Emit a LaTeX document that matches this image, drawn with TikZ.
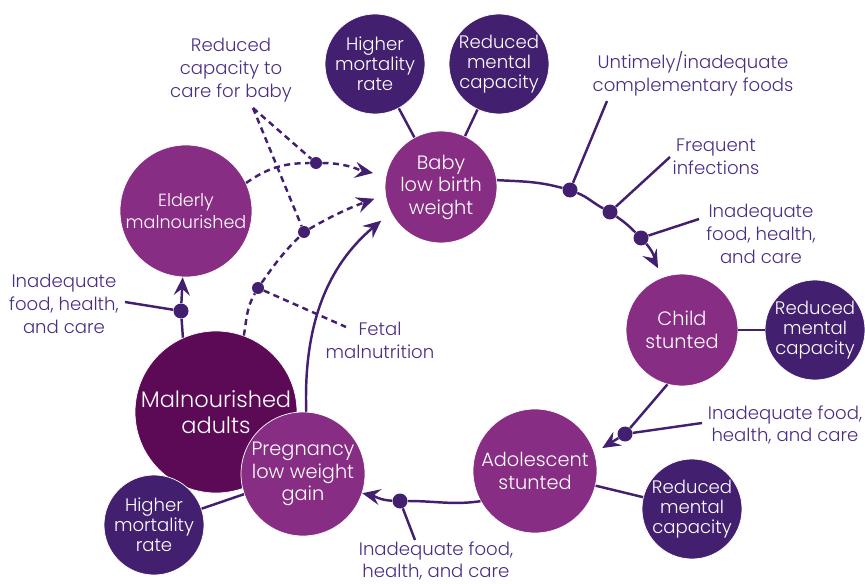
\documentclass[tikz,border=0pt]{standalone}
\usepackage{fontspec}
\setmainfont{Poppins}[UprightFont=* Light]
\usetikzlibrary{arrows.meta, positioning, calc}
\definecolor{cyclepurple}{HTML}{882D84}
\definecolor{outcomeviolet}{HTML}{43206F}
\definecolor{adultplum}{HTML}{5C0A55}
\definecolor{labelviolet}{HTML}{4B2E83}

\begin{document}
\begin{tikzpicture}[x=0.02cm, y=-0.02cm,
    stage/.style={circle, fill=cyclepurple, draw=white, thin, text=white, align=center, inner sep=0pt, font=\fontsize{11}{12.8}\selectfont},
    outcome/.style={circle, fill=outcomeviolet, draw=white, thin, text=white, align=center, inner sep=0pt, minimum size=2cm, font=\fontsize{10.3}{11.3}\selectfont},
    factor/.style={align=center, text=labelviolet, font=\fontsize{10.3}{13}\selectfont},
    dot/.style={circle, fill=outcomeviolet, inner sep=0pt, minimum size=0.3cm},
    smalldot/.style={circle, fill=outcomeviolet, inner sep=0pt, minimum size=0.24cm},
    link/.style={outcomeviolet, line width=1.4pt},
    flow/.style={link, -{Stealth[length=3.6mm, width=3.2mm, inset=1.3mm]}},
    hint/.style={link, dash pattern=on 3.5pt off 2.5pt},
    hintflow/.style={hint, -{Stealth[length=3.6mm, width=3.2mm, inset=1.3mm]}}
]
\useasboundingbox (0,0) rectangle (865,584);

% Life-cycle stages
\node[stage, minimum size=2.24cm] (baby) at (441,187) {Baby\\low birth\\weight};
\node[stage, minimum size=2.24cm] (child) at (682,330) {Child\\stunted};
\node[stage, minimum size=2.48cm] (adol) at (535,471) {Adolescent\\stunted};
\node[stage, minimum size=2.64cm, font=\fontsize{10}{12.8}\selectfont] (elderly) at (186,211) {Elderly\\malnourished};
\node[stage, minimum size=3.24cm, fill=adultplum, font=\fontsize{12.8}{15}\selectfont] (adults) at (216,412) {Malnourished\\adults};
\node[stage, minimum size=2.48cm] (preg) at (303,474) {Pregnancy\\low weight\\gain};

% Consequences
\node[outcome] (mortA) at (375,64) {Higher\\mortality\\rate};
\node[outcome] (mentA) at (499,64) {Reduced\\mental\\capacity};
\node[outcome] (mentB) at (815,330) {Reduced\\mental\\capacity};
\node[outcome] (mentC) at (692,509) {Reduced\\mental\\capacity};
\node[outcome] (mortB) at (154,525) {Higher\\mortality\\rate};

\draw[link] (baby) -- (mortA);
\draw[link] (baby) -- (mentA);
\draw[link] (child) -- (mentB);
\draw[link] (adol) -- (mentC);
\draw[link] (preg) -- (mortB);

% Contributing factors
\node[factor] (foods) at (693,74) {Untimely/inadequate\\complementary foods};
\node[factor] (infect) at (716,157) {Frequent\\infections};
\node[factor] (careC) at (761,234) {Inadequate\\food, health,\\and care};
\node[factor] (careA) at (785,425) {Inadequate food,\\health, and care};
\node[factor] (careP) at (436,561) {Inadequate food,\\health, and care};
\node[factor] (careE) at (64,304) {Inadequate\\food, health,\\and care};
\node[factor] (babycare) at (231,70) {Reduced\\capacity to\\care for baby};
\node[factor] (fetal) at (380,340) {Fetal\\malnutrition};

\coordinate (foodsend) at (607,101);
\coordinate (infectend) at (670,157);
\coordinate (careCend) at (699,219);
\coordinate (careAend) at (702,423);
\coordinate (carePend) at (415,540);
\coordinate (careEend) at (125,302);
\coordinate (babycareend) at (253,108);
\coordinate (fetalend) at (346,327);

% Dots on the cycle
\node[dot] (d1) at (570,190) {};
\node[dot] (d2) at (610,212) {};
\node[dot] (d3) at (641,238) {};
\node[dot] (d4) at (625,434) {};
\node[dot] (d5) at (400,501) {};
\node[dot] (d6) at (181,311) {};
\node[smalldot] (e1) at (316,163) {};
\node[smalldot] (e2) at (304,232) {};
\node[smalldot] (e3) at (258,288) {};

% Main cycle
\draw[link] (baby.7) to[out=-3, in=165] (d1) to[out=-22, in=152] (d2) to[out=-35, in=135] (d3);
\draw[flow, shorten >=0.2cm] (d3) to[out=-48, in=118] (child.110);
\draw[link] (child.255) -- (d4);
\draw[flow, shorten >=0.18cm] (d4) -- (adol.17);
\draw[link] (adol.209) to[out=188, in=0] (d5);
\draw[flow] (d5) to[out=178, in=-12] (preg.-18);
\draw[flow, shorten >=0.25cm] (preg.87) to[out=92, in=220] (baby.207);
\draw[link] (adults.114) -- (d6);
\draw[flow] (d6) -- (elderly);

% Intergenerational effects
\draw[hint] (elderly.25) to[out=35, in=180] (e1);
\draw[hintflow, shorten >=0.26cm] (e1) to[out=0, in=170] (baby.168);
\draw[hint] (adults.70) to[out=80, in=-120] (e3) to[out=55, in=-135] (e2);
\draw[hintflow, shorten >=0.23cm] (e2) to[out=30, in=200] (baby.188);
\draw[hint] (babycareend) -- (e1);
\draw[hint] (babycareend) -- (e2);
\draw[hint] (e3) -- (fetalend);

% Factor leaders
\draw[link] (d1) -- (foodsend);
\draw[link] (d2) -- (infectend);
\draw[link] (d3) -- (careCend);
\draw[link] (d4) -- (careAend);
\draw[link] (d5) -- (carePend);
\draw[link] (d6) -- (careEend);

\end{tikzpicture}
\end{document}
